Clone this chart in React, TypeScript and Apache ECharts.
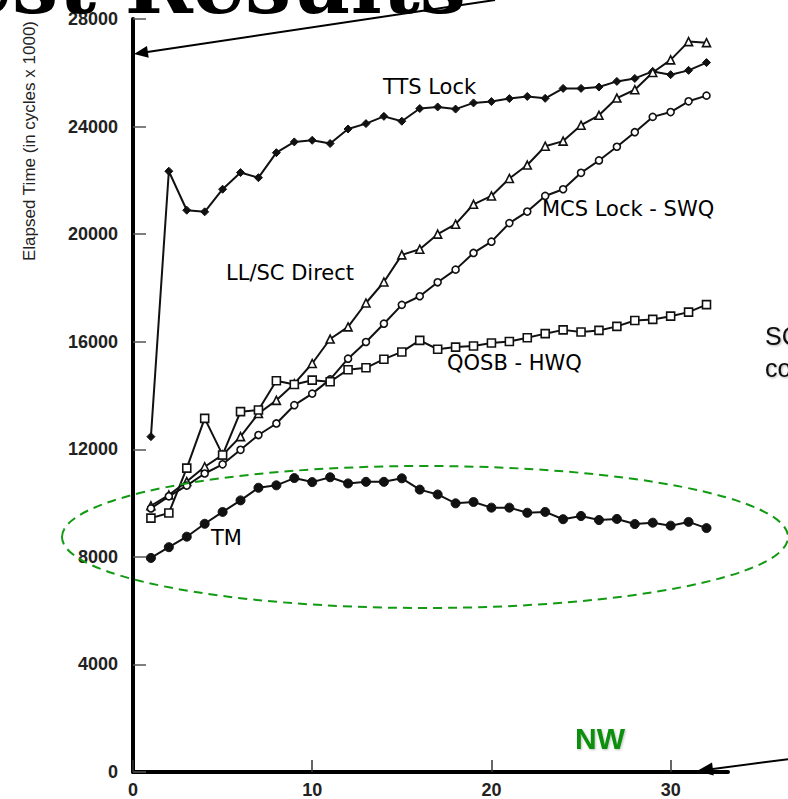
import React, { useEffect, useRef } from "react";
import * as echarts from "echarts";

const threads = [1, 2, 3, 4, 5, 6, 7, 8, 9, 10, 11, 12, 13, 14, 15, 16, 17, 18, 19, 20, 21, 22, 23, 24, 25, 26, 27, 28, 29, 30, 31, 32];
const ttsLock = [12470, 22340, 20890, 20830, 21670, 22290, 22100, 23030, 23430, 23490, 23370, 23910, 24110, 24380, 24200, 24670, 24730, 24650, 24880, 24930, 25040, 25120, 25050, 25420, 25420, 25470, 25680, 25790, 26050, 25930, 26090, 26380];
const llscDirect = [9900, 10300, 10800, 11350, 11790, 12470, 13330, 13820, 14440, 15190, 16100, 16550, 17440, 18220, 19230, 19440, 20000, 20370, 21110, 21420, 22070, 22570, 23270, 23460, 24050, 24420, 25060, 25370, 26010, 26480, 27160, 27120];
const mcsLockSwq = [9800, 10250, 10650, 11100, 11440, 11980, 12530, 12960, 13640, 14070, 14600, 15370, 15990, 16670, 17370, 17690, 18210, 18680, 19300, 19720, 20410, 20840, 21420, 21670, 22280, 22740, 23250, 23790, 24360, 24540, 24940, 25150];
const qosbHwq = [9440, 9630, 11300, 13150, 11790, 13400, 13460, 14550, 14410, 14570, 14510, 14960, 15030, 15350, 15620, 16050, 15720, 15800, 15840, 15950, 16010, 16150, 16300, 16440, 16360, 16420, 16570, 16790, 16830, 16950, 17100, 17380];
const tm = [7960, 8360, 8750, 9230, 9670, 10100, 10570, 10660, 10930, 10780, 10960, 10730, 10790, 10790, 10920, 10500, 10320, 9990, 10040, 9830, 9830, 9640, 9670, 9400, 9520, 9370, 9410, 9220, 9270, 9160, 9300, 9070];
const xTicks = [0, 10, 20, 30];

const pairs = (vals: number[]) => threads.map((t, i) => [t, vals[i]]);

function arrowHead(tip: [number, number], tail: [number, number], len: number, half: number) {
  const dx = tip[0] - tail[0];
  const dy = tip[1] - tail[1];
  const d = Math.sqrt(dx * dx + dy * dy);
  const ux = dx / d, uy = dy / d;
  const bx = tip[0] - ux * len, by = tip[1] - uy * len;
  const px = -uy * half, py = ux * half;
  return [tip, [bx + px, by + py], [bx - px, by - py]];
}

export default function App() {
  const ref = useRef<HTMLDivElement>(null);
  useEffect(() => {
    if (!ref.current) return;
    const chart = echarts.init(ref.current, null, { renderer: "svg" });
    const lineBase = (name: string, vals: number[], symbol: string, size: number, filled: boolean) => ({
      name,
      type: "line",
      data: pairs(vals),
      symbol,
      symbolSize: size,
      showAllSymbol: true,
      silent: true,
      lineStyle: { color: "#111", width: 2 },
      itemStyle: filled
        ? { color: "#111", borderColor: "#111", borderWidth: 1 }
        : { color: "#fff", borderColor: "#111", borderWidth: 1.6 },
      emphasis: { disabled: true },
    });
    const topTip: [number, number] = [134, 54];
    const topTail: [number, number] = [495, 0];
    const botTip: [number, number] = [697, 771];
    const botTail: [number, number] = [790, 759];
    chart.setOption({
      animation: false,
      grid: { left: 133, top: 19, width: 595, height: 756 },
      xAxis: {
        type: "value",
        min: 0,
        max: 33.2,
        interval: 10,
        axisLine: { show: true, lineStyle: { color: "#000", width: 4 } },
        axisTick: { show: true, inside: true, length: 12, customValues: xTicks, lineStyle: { color: "#333", width: 1.5 } },
        axisLabel: { customValues: xTicks, margin: 9, fontSize: 18, fontWeight: "bold", color: "#222", fontFamily: "Liberation Sans" },
        splitLine: { show: false },
      },
      yAxis: {
        type: "value",
        min: 0,
        max: 28000,
        interval: 4000,
        axisLine: { show: true, lineStyle: { color: "#000", width: 4 } },
        axisTick: { show: true, inside: true, length: 13, lineStyle: { color: "#555", width: 1.5 } },
        axisLabel: {
          margin: 15, fontSize: 18, fontWeight: "bold", color: "#222", fontFamily: "Liberation Sans",
          formatter: (v: number) => String(v),
        },
        splitLine: { show: false },
      },
      series: [
        lineBase("TTS Lock", ttsLock, "diamond", 8, true),
        lineBase("LL/SC Direct", llscDirect, "triangle", 8, false),
        lineBase("MCS Lock - SWQ", mcsLockSwq, "circle", 7, false),
        lineBase("QOSB - HWQ", qosbHwq, "rect", 8, false),
        lineBase("TM", tm, "circle", 9, true),
      ],
      graphic: [
        {
          type: "text", z: 100, x: 466, y: -16,
          style: { text: "Test Results", font: "bold 82px 'DejaVu Serif'", lineHeight: 40, fill: "#000", align: "right", verticalAlign: "middle" },
        },
        {
          type: "text", z: 100, x: 29, y: 21, rotation: Math.PI / 2,
          style: { text: "Elapsed Time (in cycles x 1000)", font: "17px 'Liberation Sans'", fill: "#222", align: "right", verticalAlign: "middle" },
        },
        { type: "text", z: 100, x: 383, y: 86.5, style: { text: "TTS Lock", font: "21px 'DejaVu Sans'", fill: "#000", verticalAlign: "middle" } },
        { type: "text", z: 100, x: 226, y: 272.5, style: { text: "LL/SC Direct", font: "21px 'DejaVu Sans'", fill: "#000", verticalAlign: "middle" } },
        { type: "text", z: 100, x: 542, y: 208.5, style: { text: "MCS Lock - SWQ", font: "21px 'DejaVu Sans'", fill: "#000", verticalAlign: "middle" } },
        { type: "text", z: 100, x: 447, y: 362.5, style: { text: "QOSB - HWQ", font: "21px 'DejaVu Sans'", fill: "#000", verticalAlign: "middle" } },
        { type: "text", z: 100, x: 211, y: 537.5, style: { text: "TM", font: "21px 'DejaVu Sans'", fill: "#000", verticalAlign: "middle" } },
        {
          type: "text", z: 100, x: 765, y: 336,
          style: { text: "SC", font: "25px 'Liberation Sans'", fill: "#111", verticalAlign: "middle", textShadowColor: "rgba(0,0,0,0.3)", textShadowBlur: 2, textShadowOffsetX: 1, textShadowOffsetY: 1 },
        },
        {
          type: "text", z: 100, x: 765, y: 368,
          style: { text: "co", font: "25px 'Liberation Sans'", fill: "#111", verticalAlign: "middle", textShadowColor: "rgba(0,0,0,0.3)", textShadowBlur: 2, textShadowOffsetX: 1, textShadowOffsetY: 1 },
        },
        {
          type: "text", z: 100, x: 575, y: 738,
          style: { text: "NW", font: "bold 30px 'Liberation Sans'", fill: "#0b8f0b", verticalAlign: "middle", textShadowColor: "rgba(0,0,0,0.25)", textShadowBlur: 2, textShadowOffsetX: 1, textShadowOffsetY: 1 },
        },
        {
          type: "ellipse", z: 100, silent: true,
          shape: { cx: 425, cy: 537, rx: 363, ry: 71 },
          style: { fill: "none", stroke: "#129a12", lineWidth: 2, lineDash: [9, 6] },
        },
        { type: "line", z: 100, shape: { x1: topTail[0], y1: topTail[1], x2: topTip[0] + 10, y2: topTip[1] - 1.5 }, style: { stroke: "#000", lineWidth: 2 } },
        { type: "polygon", z: 100, shape: { points: arrowHead(topTip, topTail, 14, 6) }, style: { fill: "#000" } },
        { type: "line", z: 100, shape: { x1: botTail[0], y1: botTail[1], x2: botTip[0] + 10, y2: botTip[1] - 1.3 }, style: { stroke: "#000", lineWidth: 2 } },
        { type: "polygon", z: 100, shape: { points: arrowHead(botTip, botTail, 16, 6.5) }, style: { fill: "#000" } },
      ],
    });
    return () => chart.dispose();
  }, []);
  return <div ref={ref} style={{ position: "fixed", left: 0, top: 0, width: 788, height: 799, background: "#fff" }} />;
}
